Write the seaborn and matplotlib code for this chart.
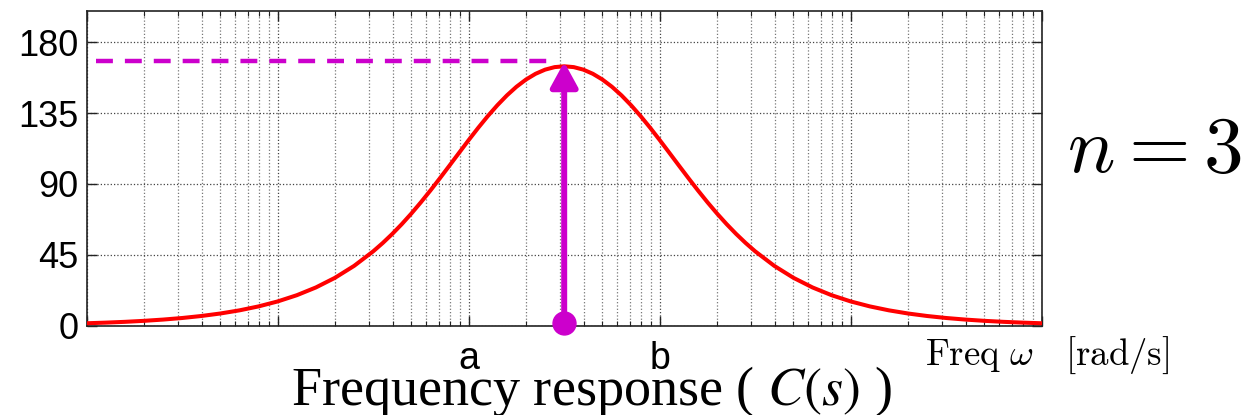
import numpy as np
import matplotlib
matplotlib.use("Agg")
import matplotlib.pyplot as plt
import matplotlib.transforms as mtransforms
from matplotlib.ticker import LogLocator, NullFormatter, FixedLocator
import seaborn as sns

# ---- data ----
freqs = [0.01, 0.01259, 0.01585, 0.01995, 0.02512, 0.03162, 0.03981, 0.05012, 0.0631, 0.07943,
         0.1, 0.1259, 0.1585, 0.1995, 0.2512,
         0.3162, 0.3548, 0.3981, 0.4467, 0.5012, 0.5623, 0.631, 0.7079, 0.7943, 0.8913,
         1.0, 1.122, 1.259, 1.413, 1.585, 1.778, 1.995, 2.239, 2.512, 2.818,
         3.162, 3.548, 3.981, 4.467, 5.012, 5.623, 6.31, 7.079, 7.943, 8.913,
         10.0, 11.22, 12.59, 14.13, 15.85, 17.78, 19.95, 22.39, 25.12, 28.18, 31.62,
         39.81, 50.12, 63.1, 79.43,
         100.0, 125.9, 158.5, 199.5, 251.2, 316.2, 398.1, 501.2, 631.0, 794.3, 1000.0]
phase = [1.55, 1.95, 2.45, 3.09, 3.89, 4.89, 6.16, 7.75, 9.75, 12.26,
         15.41, 19.36, 24.29, 30.42, 37.98,
         47.21, 52.51, 58.28, 64.53, 71.25, 78.40, 85.92, 93.74, 101.76, 109.85,
         117.87, 125.67, 133.09, 139.99, 146.23, 151.70, 156.29, 159.94, 162.58, 164.18,
         164.71, 164.18, 162.58, 159.94, 156.29, 151.70, 146.23, 139.99, 133.09, 125.67,
         117.87, 109.85, 101.76, 93.74, 85.92, 78.40, 71.25, 64.53, 58.28, 52.51, 47.21,
         37.98, 30.42, 24.29, 19.36,
         15.41, 12.26, 9.75, 7.75, 6.16, 4.89, 3.89, 3.09, 2.45, 1.95, 1.55]
y_ticks = [0, 45, 90, 135, 180]
y_tick_labels = ["0", "45", "90", "135", "180"]
corner_freqs = [1.0, 10.0]
corner_labels = ["a", "b"]
max_phase_level = 168.0

# ---- style ----
sns.set_style("ticks")
plt.rcParams["font.family"] = ["Liberation Sans", "DejaVu Sans"]
plt.rcParams["text.color"] = "black"
plt.rcParams["axes.labelcolor"] = "black"
plt.rcParams["xtick.color"] = "black"
plt.rcParams["ytick.color"] = "black"

fig = plt.figure(figsize=(12.43, 4.15), dpi=100)
ax = fig.add_axes([86.7 / 1243, 1 - 325.7 / 415, (1041.7 - 86.7) / 1243, (325.7 - 10.7) / 415])

magenta = "#cc00cc"

sns.lineplot(x=freqs, y=phase, ax=ax, color="#ff0000", linewidth=2.9, zorder=3)
ax.set_xscale("log")
ax.set_xlim(0.01, 1000)
ax.set_ylim(0, 200)

# grid
ax.xaxis.set_major_locator(LogLocator(base=10, numticks=20))
ax.xaxis.set_minor_locator(LogLocator(base=10, subs=np.arange(2, 10), numticks=50))
ax.xaxis.set_major_formatter(NullFormatter())
ax.xaxis.set_minor_formatter(NullFormatter())
ax.yaxis.set_major_locator(FixedLocator(y_ticks))
ax.set_yticklabels(y_tick_labels)
ax.grid(True, which="major", axis="both", linestyle=":", color="#444444", linewidth=0.9)
ax.grid(True, which="minor", axis="x", linestyle=":", color="#777777", linewidth=0.9)
ax.set_axisbelow(True)

ax.tick_params(axis="both", which="major", direction="in", length=7, width=1.0,
               top=True, right=True, colors="#222222", labelcolor="black")
ax.tick_params(axis="both", which="minor", direction="in", length=3.5, width=0.8,
               top=True, right=True, colors="#222222")
ax.tick_params(axis="y", labelsize=26, pad=6)
for s in ax.spines.values():
    s.set_visible(True)
    s.set_color("#222222")
    s.set_linewidth(1.2)
ax.set_xlabel("")
ax.set_ylabel("")

# peak marker derived from data
i_pk = int(np.argmax(phase))
pk_freq = freqs[i_pk]
ax.plot([0.0112, 2.65], [max_phase_level, max_phase_level], color=magenta,
        linewidth=3.2, dashes=(3.8, 2.7), zorder=4, solid_capstyle="butt")
ax.annotate("", xy=(pk_freq, 167.4), xytext=(pk_freq, 2.0),
            arrowprops=dict(arrowstyle="-|>,head_length=0.42,head_width=0.23",
                            mutation_scale=36, color=magenta, lw=4.3,
                            shrinkA=0, shrinkB=0), zorder=5, annotation_clip=False)
ax.plot([pk_freq], [2.0], marker="o", markersize=16.5, color=magenta,
        clip_on=False, zorder=6, linestyle="none")

# corner labels a, b
trans = mtransforms.blended_transform_factory(ax.transData, ax.transAxes)
for f, lab in zip(corner_freqs, corner_labels):
    ax.text(f, -0.137, lab, transform=trans, ha="center", va="baseline", fontsize=27,
            color="black", family=["Liberation Sans", "DejaVu Sans"])

# axis label & captions
fig.text(925 / 1243, 1 - 365 / 415, r"$\mathrm{Freq}\ \omega\quad[\mathrm{rad/s}]$",
         ha="left", va="baseline", fontsize=26.5, color="black", math_fontfamily="cm")
fig.text(591 / 1243, 1 - 405 / 415, r"Frequency response ( $C(s)$ )",
         ha="center", va="baseline", fontsize=39, color="black",
         family=["Liberation Serif", "DejaVu Serif"], math_fontfamily="stix")
fig.text(1067 / 1243, 1 - 172 / 415, r"$n=3$", ha="left", va="baseline",
         fontsize=57, color="black", math_fontfamily="cm")

fig.savefig("out.png", dpi=100)
